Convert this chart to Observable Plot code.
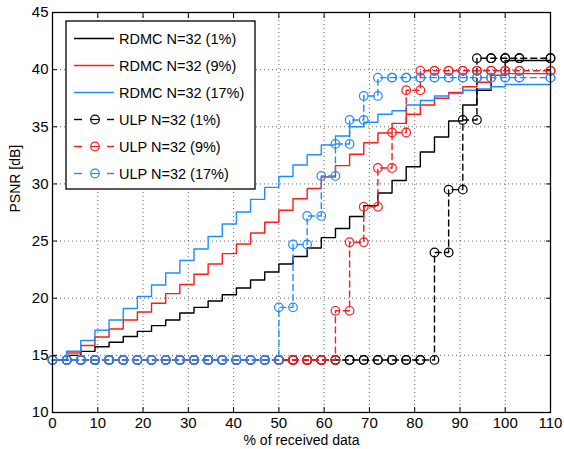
<!DOCTYPE html>
<html><head><meta charset="utf-8">
<script src="https://cdn.jsdelivr.net/npm/d3@7"></script>
<script src="https://cdn.jsdelivr.net/npm/@observablehq/plot@0.6"></script>
<style>
body{margin:0;background:#fff;}
#wrap{position:relative;width:564px;height:449px;font-family:"Liberation Sans",Arial,Helvetica,sans-serif;}
#wrap svg{display:block;}
</style></head><body><div id="wrap"></div>
<script>
// % of received data (x positions of the stair steps)
const xPct = [0,3.125,6.25,9.375,12.5,15.625,18.75,21.875,25,28.125,31.25,34.375,37.5,40.625,43.75,46.875,50,53.125,56.25,59.375,62.5,65.625,68.75,71.875,75,78.125,81.25,84.375,87.5,90.625,93.75,96.875,100,103.125,110];

// RDMC PSNR [dB]
const rdmc1  = [14.6,15.0,15.35,15.75,16.15,16.65,17.1,17.6,18.1,18.7,19.2,19.75,20.3,20.9,21.6,22.3,23.0,23.65,24.4,25.3,26.1,27.15,28.1,29.2,30.3,31.5,32.8,34.1,35.5,36.9,38.2,39.5,40.8,40.8,40.8];
const rdmc9  = [14.6,15.2,15.86,16.6,17.3,18.1,18.8,19.56,20.4,21.2,22.1,23.0,23.9,24.75,25.7,26.65,27.7,28.7,29.6,30.6,31.6,32.6,33.6,34.45,35.3,36.1,36.9,37.5,38.0,38.5,38.9,39.5,39.65,39.65,39.65];
const rdmc17 = [14.6,15.36,16.3,17.2,18.1,19.1,20.15,21.15,22.2,23.3,24.3,25.4,26.5,27.55,28.65,29.7,30.65,31.65,32.55,33.4,34.2,35.0,35.4,36.1,36.4,36.9,37.3,37.7,37.9,38.2,38.3,38.5,38.7,38.7,38.7];

// ULP PSNR [dB]
const ulp1  = [14.6,14.6,14.6,14.6,14.6,14.6,14.6,14.6,14.6,14.6,14.6,14.6,14.6,14.6,14.6,14.6,14.6,14.6,14.6,14.6,14.6,14.6,14.6,14.6,14.6,14.6,14.6,24.0,29.5,35.6,41.0,41.0,41.0,41.0,41.0];
const ulp9  = [14.6,14.6,14.6,14.6,14.6,14.6,14.6,14.6,14.6,14.6,14.6,14.6,14.6,14.6,14.6,14.6,14.6,14.6,14.6,14.6,18.9,24.9,28.0,31.4,34.5,38.2,39.9,39.9,39.9,39.9,39.9,39.9,39.9,39.9,39.9];
const ulp17 = [14.6,14.6,14.6,14.6,14.6,14.6,14.6,14.6,14.6,14.6,14.6,14.6,14.6,14.6,14.6,14.6,19.2,24.7,27.2,30.7,33.5,35.6,37.7,39.3,39.3,39.3,39.3,39.3,39.3,39.3,39.3,39.3,39.3,39.3,39.3];

const seriesNames  = ["RDMC N=32 (1%)","RDMC N=32 (9%)","RDMC N=32 (17%)","ULP N=32 (1%)","ULP N=32 (9%)","ULP N=32 (17%)"];
const seriesColors = ["#000000","#ff1a1a","#1e8cff","#000000","#ff1a1a","#1e8cff"];
const seriesValues = [rdmc1, rdmc9, rdmc17, ulp1, ulp9, ulp17];
const seriesDashed = [false,false,false,true,true,true];

const xTicks = [0,10,20,30,40,50,60,70,80,90,100,110];
const yTicks = [10,15,20,25,30,35,40,45];
const xLabel = "% of received data";
const yLabel = "PSNR [dB]";

const marks = [];
const gridStyle = {stroke:"#000", strokeOpacity:0.6, strokeDasharray:"1,3", strokeWidth:1};
marks.push(Plot.gridX(xTicks, gridStyle));
marks.push(Plot.gridY(yTicks, gridStyle));

seriesValues.forEach((vals, s) => {
  const rows = xPct.map((x, i) => ({x, y: vals[i]}));
  marks.push(Plot.line(rows, {x:"x", y:"y", curve:"step-after", stroke: seriesColors[s], strokeWidth:1.4,
    strokeDasharray: seriesDashed[s] ? "6,4" : null}));
  if (seriesDashed[s]) {
    const verts = [];
    xPct.forEach((x, i) => {
      if (i > 0) verts.push({x, y: vals[i-1]});
      verts.push({x, y: vals[i]});
    });
    marks.push(Plot.dot(verts, {x:"x", y:"y", r:4.3, stroke: seriesColors[s], strokeWidth:1.2, fill:"none"}));
  }
});

marks.push(Plot.frame({stroke:"#000", strokeWidth:1.3}));
marks.push(Plot.axisX(xTicks, {anchor:"bottom", tickSize:-5, tickPadding:10, label:null, fontSize:15}));
marks.push(Plot.axisX(xTicks, {anchor:"top", tickSize:-5, tickFormat:() => "", label:null}));
marks.push(Plot.axisY(yTicks, {anchor:"left", tickSize:-5, tickPadding:9, label:null, fontSize:15}));
marks.push(Plot.axisY(yTicks, {anchor:"right", tickSize:-5, tickFormat:() => "", label:null}));
marks.push(Plot.text([xLabel], {text:d=>d, frameAnchor:"bottom", dy:32, fontSize:14}));
marks.push(Plot.text([yLabel], {text:d=>d, frameAnchor:"left", rotate:-90, dx:-37, fontSize:14}));

const chart = Plot.plot({
  width:564, height:449,
  marginLeft:52, marginRight:14, marginTop:12, marginBottom:37,
  x:{domain:[0,110]},
  y:{domain:[10,45]},
  style:{fontFamily:"'Liberation Sans', Arial, Helvetica, sans-serif", fontSize:"14px", color:"#000", background:"#fff", overflow:"visible"},
  marks
});
const wrap = document.getElementById("wrap");
wrap.appendChild(chart);

// Legend overlay
const lg = d3.select(wrap).append("svg")
  .attr("width",564).attr("height",449)
  .style("position","absolute").style("left","0px").style("top","0px")
  .style("font-family","'Liberation Sans', Arial, Helvetica, sans-serif");
lg.append("rect").attr("x",66).attr("y",21).attr("width",189).attr("height",168)
  .attr("fill","#fff").attr("stroke","#000").attr("stroke-width",1.3);
seriesNames.forEach((name, i) => {
  const cy = 38.5 + i*27;
  const c = seriesColors[i];
  if (!seriesDashed[i]) {
    lg.append("line").attr("x1",74).attr("x2",114).attr("y1",cy).attr("y2",cy)
      .attr("stroke",c).attr("stroke-width",1.4);
  } else {
    lg.append("line").attr("x1",74).attr("x2",82).attr("y1",cy).attr("y2",cy).attr("stroke",c).attr("stroke-width",1.4);
    lg.append("line").attr("x1",107).attr("x2",114).attr("y1",cy).attr("y2",cy).attr("stroke",c).attr("stroke-width",1.4);
    lg.append("circle").attr("cx",95).attr("cy",cy).attr("r",4.3).attr("fill","none").attr("stroke",c).attr("stroke-width",1.2);
    lg.append("line").attr("x1",91).attr("x2",99).attr("y1",cy).attr("y2",cy).attr("stroke",c).attr("stroke-width",1.2);
  }
  lg.append("text").attr("x",119).attr("y",cy).attr("dy","0.35em").attr("font-size",14.5).attr("fill","#000").text(name);
});
</script>
</body></html>
